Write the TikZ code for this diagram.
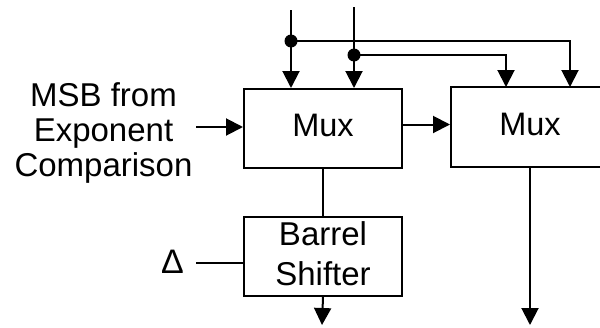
\documentclass[tikz,border=0pt]{standalone}
\usepackage{fontspec}
\setmainfont{Liberation Sans}
\usetikzlibrary{arrows.meta,calc}
\begin{document}
\begin{tikzpicture}[x=1pt,y=-1pt,
  blk/.style={draw,line width=2pt,inner sep=0pt,align=center},
  muxfont/.style={font=\fontsize{32.5}{40}\selectfont,text depth=6pt},
  lbl/.style={inner sep=0pt,align=center},
  wire/.style={line width=2pt},
  arr/.style={line width=2pt,-{Triangle[length=17pt,width=17pt]}},
  dot/.style={circle,fill,inner sep=0pt,minimum size=13pt}]
\useasboundingbox (0,0) rectangle (600,327);
\clip (0,0) rectangle (600,327);
% blocks
\node[blk,muxfont,minimum width=158pt,minimum height=79pt] (mux1) at (323,128.5) {Mux};
\node[blk,muxfont,minimum width=158pt,minimum height=80pt] (mux2) at (530,127) {Mux};
\node[blk,minimum width=158pt,minimum height=79pt] (bs) at (323,256.5) {};
\node[lbl,anchor=north,font=\fontsize{33}{40}\selectfont] (bstext) at (323,221.2) {Barrel\\Shifter};
% labels
\node[lbl,anchor=north,font=\fontsize{33}{35}\selectfont] (msb) at (103.5,82.8) {MSB from\\Exponent\\Comparison};
\node[inner sep=0pt,anchor=base,font=\fontsize{34}{36}\selectfont] (delta) at (172.5,273) {Δ};
% coordinates
\coordinate (in1) at (291,10);
\coordinate (in2) at (354,7);
\coordinate (d1) at (291,41);
\coordinate (d2) at (354,55);
\coordinate (t1) at (570,87);
\coordinate (t2) at (506,87);
\coordinate (msbe) at (196,127);
\coordinate (dle) at (196,263);
\coordinate (o1) at (322,325);
\coordinate (o2) at (530,325);
% connectors
\draw[arr] (in1) -- (in1 |- mux1.north);
\draw[arr] (in2) -- (in2 |- mux1.north);
\draw[arr] (d1) -| (t1);
\draw[arr] (d2) -| (t2);
\node[dot] (dd1) at (d1) {};
\node[dot] (dd2) at (d2) {};
\draw[arr] (msbe) -- (msbe -| mux1.west);
\draw[arr] ($(mux1.east)+(0,-4)$) -- ($(mux1.east -| mux2.west)+(0,-4)$);
\draw[wire] (mux1.south) -- (bs.north);
\draw[arr] (bs.south) -- (o1);
\draw[arr] (mux2.south) -- (o2);
\draw[line width=1.6pt] (dle) -- (dle -| bs.west);
\end{tikzpicture}
\end{document}
